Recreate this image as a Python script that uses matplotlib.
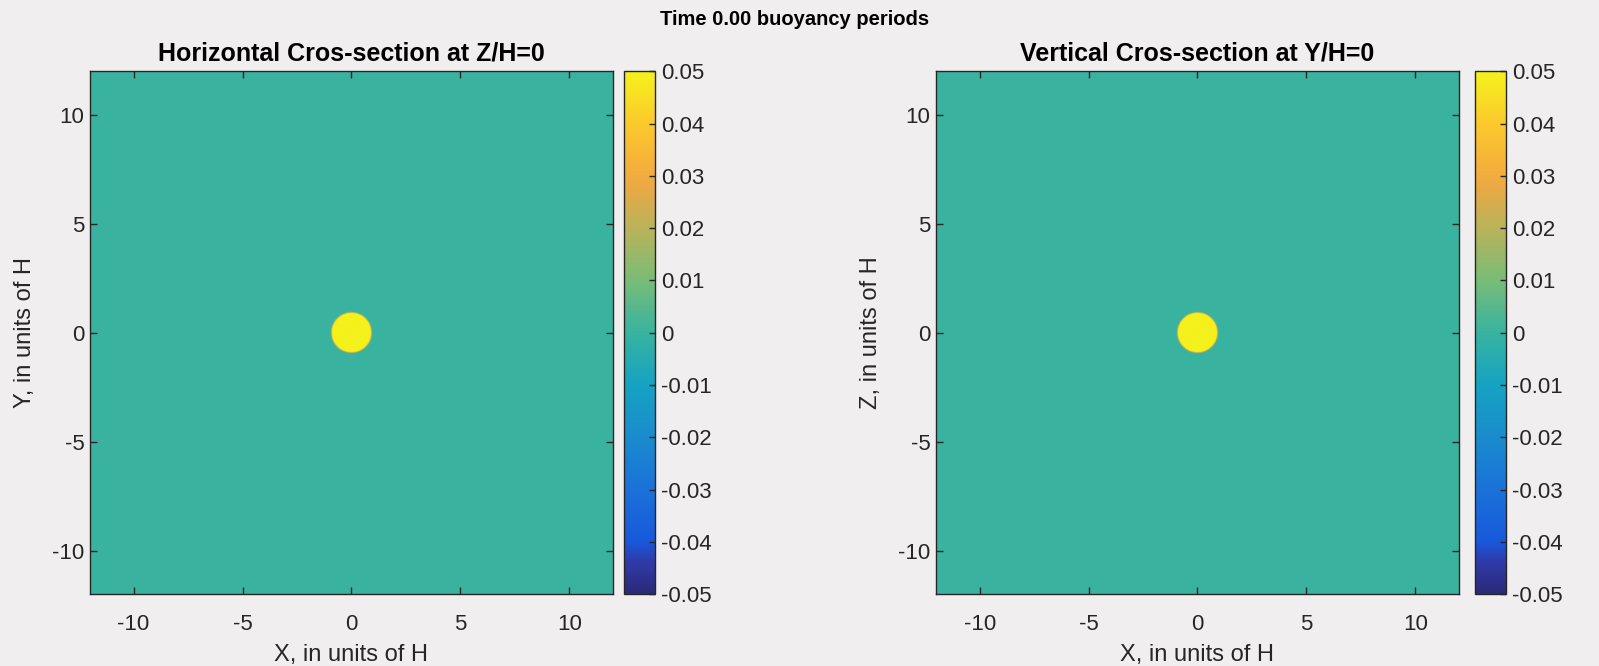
import numpy as np
import matplotlib
matplotlib.use("Agg")
import matplotlib.pyplot as plt
from matplotlib.colors import LinearSegmentedColormap

# parula-like colour table (MATLAB default look)
cmap_pos = [0.0, 0.06, 0.1, 0.2, 0.3, 0.4, 0.5, 0.6, 0.7, 0.78, 0.82, 0.9, 1.0]
cmap_hex = ["#2b2a78", "#2f3aa8", "#1858dc", "#1a72d8", "#1a8ccd", "#15a3c2",
            "#38b3a0", "#78bc76", "#b9b35a", "#eaa944", "#f6b03a", "#fbc92c",
            "#f5f11c"]
parula = LinearSegmentedColormap.from_list("parula", list(zip(cmap_pos, cmap_hex)), N=256)

# domain / perturbation parameters
domain = [-12, 12]
blob_radius = 0.92       # in units of H
blob_edge = 0.07
blob_amp = 0.05
clim = [-0.05, 0.05]
xticks = [-10, -5, 0, 5, 10]
cticks = [-0.05, -0.04, -0.03, -0.02, -0.01, 0, 0.01, 0.02, 0.03, 0.04, 0.05]
ctick_labels = ["-0.05", "-0.04", "-0.03", "-0.02", "-0.01", "0",
                "0.01", "0.02", "0.03", "0.04", "0.05"]
time_val = 0.00

titles = ["Horizontal Cros-section at Z/H=0", "Vertical Cros-section at Y/H=0"]
ylabels = ["Y, in units of H", "Z, in units of H"]

x = np.linspace(domain[0], domain[1], 961)
X, Y = np.meshgrid(x, x)
R = np.sqrt(X**2 + Y**2)
field = blob_amp * np.clip((blob_radius - R) / blob_edge + 0.5, 0, 1)

plt.rcParams["font.family"] = ["Liberation Sans", "DejaVu Sans"]
plt.rcParams["axes.unicode_minus"] = False
bg = "#f0eeef"
fg = "#262626"

fig = plt.figure(figsize=(15.99, 6.66), dpi=100, facecolor=bg)

ax_pos = [[0.0563, 0.108, 0.327, 0.785], [0.5854, 0.108, 0.327, 0.785]]
cb_pos = [[0.3905, 0.108, 0.0194, 0.785], [0.9225, 0.108, 0.0194, 0.785]]

for k in range(2):
    ax = fig.add_axes(ax_pos[k])
    im = ax.imshow(field, extent=[domain[0], domain[1], domain[0], domain[1]],
                   origin="lower", cmap=parula, vmin=clim[0], vmax=clim[1],
                   interpolation="bilinear", aspect="auto")
    ax.set_xlim(domain)
    ax.set_ylim(domain)
    ax.set_xticks(xticks)
    ax.set_yticks(xticks)
    ax.tick_params(direction="in", top=True, right=True, length=5,
                   width=1, labelsize=16, colors=fg)
    ax.tick_params(axis="x", pad=14)
    ax.tick_params(axis="y", pad=4)
    for s in ax.spines.values():
        s.set_color(fg)
        s.set_linewidth(1)
    ax.set_title(titles[k], fontsize=18, fontweight="bold", pad=8)
    ax.set_xlabel("X, in units of H", fontsize=17, color=fg, labelpad=7)
    ax.set_ylabel(ylabels[k], fontsize=17, color=fg, labelpad=12)

    cax = fig.add_axes(cb_pos[k])
    cb = fig.colorbar(im, cax=cax, ticks=cticks)
    cb.ax.set_yticklabels(ctick_labels)
    cb.ax.tick_params(direction="in", length=4, width=1, labelsize=16,
                      colors=fg, pad=4)
    cb.outline.set_edgecolor(fg)
    cb.outline.set_linewidth(1)

fig.text(0.497, 0.985, "Time %.2f buoyancy periods" % time_val, ha="center",
         va="top", fontsize=14.5, fontweight="bold")

fig.savefig("out.png", dpi=100, facecolor=bg)
